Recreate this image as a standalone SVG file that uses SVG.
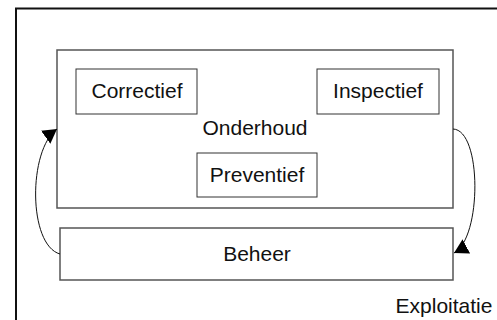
<svg xmlns="http://www.w3.org/2000/svg" width="497" height="320" viewBox="0 0 497 320">
<style>
text{font-family:"Liberation Sans",Arial,sans-serif;font-size:21px;fill:#111;text-anchor:middle}
.big{fill:#fff;stroke:#555;stroke-width:1.5}
.small{fill:#fff;stroke:#333;stroke-width:1}
.con{fill:none;stroke:#111;stroke-width:1}
</style>
<defs>
<marker id="ah" markerUnits="userSpaceOnUse" markerWidth="16" markerHeight="17" refX="14" refY="8" orient="auto">
<path d="M0,0 L14,8 L0,16 z" fill="#000"/>
</marker>
</defs>
<g id="exploitatie">
<rect x="16" y="8.5" width="500" height="330" fill="#fff" stroke="#111" stroke-width="2"/>
<text x="444" y="313">Exploitatie</text>
</g>
<g id="onderhoud">
<rect class="big" x="57" y="50" width="396" height="158"/>
<text x="255" y="135">Onderhoud</text>
</g>
<g id="correctief">
<rect class="small" x="76" y="69" width="121" height="45"/>
<text x="137" y="98">Correctief</text>
</g>
<g id="inspectief">
<rect class="small" x="317" y="69" width="122" height="45"/>
<text x="378" y="98">Inspectief</text>
</g>
<g id="preventief">
<rect class="small" x="197" y="153" width="120" height="44"/>
<text x="257" y="182">Preventief</text>
</g>
<g id="beheer">
<rect class="big" x="60" y="228" width="393" height="52"/>
<text x="257" y="261">Beheer</text>
</g>
<g id="connectors">
<path class="con" d="M60,254 C28,245 28,150 57,129" marker-end="url(#ah)"/>
<path class="con" d="M453,129 C482,130 482,238 454,253" marker-end="url(#ah)"/>
</g>
</svg>
